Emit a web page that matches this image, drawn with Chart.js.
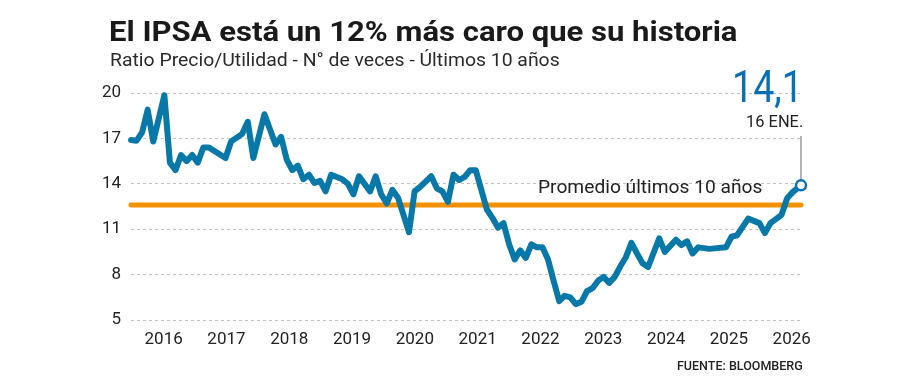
<!DOCTYPE html>
<html><head><meta charset="utf-8">
<script src="https://cdn.jsdelivr.net/npm/chart.js@4.4.1/dist/chart.umd.min.js"></script>
<style>
html,body{margin:0;padding:0;background:#fff;}
#wrap{position:relative;width:900px;height:378px;overflow:hidden;font-family:Roboto,"Noto Sans",sans-serif;color:#222;}
#c{position:absolute;left:0;top:0;}
.t{position:absolute;white-space:nowrap;line-height:1;}
</style></head><body>
<div id="wrap">
<canvas id="c" width="900" height="378"></canvas>
<div class="t" id="title" data-w="629" data-o="left" style="left:109px;top:19px;font-size:27px;font-weight:700;color:#1a1a1a;">El IPSA está un 12% más caro que su historia</div>
<div class="t" id="sub" data-w="450" data-o="left" style="left:110px;top:50px;font-size:19px;color:#2a2a2a;">Ratio Precio/Utilidad - N° de veces - Últimos 10 años</div>
<div class="t" id="big" data-w="71" data-o="right" style="right:97px;top:65px;font-size:44px;color:#0b6fb6;">14,1</div>
<div class="t" id="date" data-w="57" data-o="right" style="right:97px;top:113px;font-size:17px;color:#222;">16 ENE.</div>
<div class="t" id="avg" data-w="225" data-o="left" style="left:538px;top:178px;font-size:18px;color:#222;">Promedio últimos 10 años</div>
<div class="t" id="src" data-w="126" data-o="right" style="right:97px;top:359px;font-size:13px;font-weight:500;color:#222;">FUENTE: BLOOMBERG</div>
</div>
<script>
// ---- data ----
const dates = ['2016-01','2016-02','2016-03','2016-04','2016-05','2016-07','2016-08','2016-09','2016-10','2016-11','2016-12',
'2017-01','2017-02','2017-03','2017-06','2017-07','2017-09','2017-10','2017-11',
'2018-01','2018-03','2018-04','2018-05','2018-06','2018-07','2018-08','2018-09','2018-10','2018-11','2018-12',
'2019-01','2019-03','2019-04','2019-05','2019-06','2019-08','2019-09','2019-10','2019-11','2019-12',
'2020-01','2020-03','2020-04','2020-05','2020-07','2020-08','2020-09','2020-10','2020-11','2020-12',
'2021-01','2021-02','2021-03','2021-05','2021-06','2021-07','2021-08','2021-09','2021-10','2021-11','2021-12',
'2022-01','2022-02','2022-03','2022-04','2022-05','2022-06','2022-07','2022-08','2022-09','2022-10','2022-11','2022-12',
'2023-01','2023-02','2023-03','2023-04','2023-05','2023-06','2023-07','2023-08','2023-09','2023-10','2023-12',
'2024-01','2024-03','2024-04','2024-05','2024-06','2024-07','2024-09','2024-12',
'2025-01','2025-02','2025-04','2025-06','2025-07','2025-08','2025-10','2025-11','2025-12','2026-01-16'];
const peRatio = [16.9,16.85,17.4,18.9,16.8,19.85,15.4,14.9,15.9,15.5,15.9,
15.4,16.4,16.4,15.7,16.8,17.3,18.1,15.7,
18.6,16.6,17.1,15.6,14.9,15.2,14.3,14.6,14.05,14.2,13.5,
14.6,14.3,14.0,13.3,14.5,13.5,14.5,13.3,12.7,13.6,
13.1,10.8,13.5,13.8,14.5,13.7,13.5,12.8,14.6,14.25,
14.45,14.9,14.9,12.3,11.75,11.1,11.4,10.0,9.0,9.6,9.1,
10.0,9.8,9.8,9.0,7.6,6.25,6.6,6.5,6.05,6.2,6.9,7.1,
7.6,7.85,7.45,7.85,8.55,9.15,10.1,9.4,8.75,8.5,10.4,
9.5,10.3,9.95,10.2,9.4,9.8,9.7,9.8,
10.5,10.6,11.7,11.4,10.75,11.4,11.95,13.05,13.45,13.9];
const averagePE = 12.6;
const yTicks = [5, 8, 11, 14, 17, 20];
const yearLabels = [2016,2017,2018,2019,2020,2021,2022,2023,2024,2025,2026];

function toYear(s){const p=s.split('-').map(Number);return p[0]+(p[1]-1)/12+((p[2]||1)-1)/365;}
const pts = dates.map((d,i)=>({x:toYear(d),y:peRatio[i]}));
const firstX = pts[0].x, lastX = pts[pts.length-1].x;

const BLUE = '#0878a9';
Chart.defaults.font.family = 'Roboto, "Noto Sans", sans-serif';
Chart.defaults.color = '#222';

const leader = {
  id:'leader',
  beforeDatasetsDraw(chart){
    const meta = chart.getDatasetMeta(0);
    const p = meta.data[meta.data.length-1];
    const el = document.getElementById('date');
    const top = el.offsetTop + el.offsetHeight + 6;
    const c = chart.ctx;
    c.save();
    c.strokeStyle = '#9a9a9a'; c.lineWidth = 1.5;
    c.beginPath(); c.moveTo(p.x, top); c.lineTo(p.x, p.y); c.stroke();
    c.restore();
  }
};

new Chart(document.getElementById('c'), {
  type:'line',
  data:{datasets:[
    {data:pts, borderColor:BLUE, borderWidth:6, tension:0, order:0, clip:false,
     borderJoinStyle:'round', borderCapStyle:'round',
     pointRadius:ctx=>ctx.dataIndex===pts.length-1?5:0,
     pointBackgroundColor:'#fff', pointBorderColor:'#0b6fb6', pointBorderWidth:2.5},
    {data:[{x:firstX,y:averagePE},{x:lastX,y:averagePE}], borderColor:'#f39200', borderWidth:5,
     borderCapStyle:'round', pointRadius:0, order:1, clip:false}
  ]},
  options:{
    responsive:false, animation:false, events:[],
    layout:{padding:{left:0,right:97,top:93,bottom:28}},
    plugins:{legend:{display:false}, tooltip:{enabled:false}},
    scales:{
      x:{type:'linear', display:false, min:firstX, max:lastX+0.03},
      x2:{type:'linear', position:'bottom', min:2015.48, max:2026.18,
          afterBuildTicks:s=>{s.ticks=yearLabels.map(v=>({value:v}));},
          afterFit:s=>{s.height=30;},
          grid:{display:false, drawTicks:false}, border:{display:false},
          ticks:{padding:10, font:{size:17}, color:'#222', callback:v=>String(v), maxRotation:0, autoSkip:false}},
      y:{min:5, max:20,
         afterBuildTicks:s=>{s.ticks=yTicks.map(v=>({value:v}));},
         afterFit:s=>{s.width=131;},
         grid:{color:'#c2c2c2', lineWidth:1, drawTicks:false},
         border:{display:false, dash:[3,3]},
         ticks:{padding:10, font:{size:17}, color:'#222', callback:v=>String(v)}}
    }
  },
  plugins:[leader]
});

function fit(){
  document.querySelectorAll('.t').forEach(el=>{
    const w = +el.dataset.w;
    const k = w/el.offsetWidth;
    el.style.transformOrigin = el.dataset.o==='right'?'right top':'left top';
    el.style.transform = 'scaleX('+k+')';
  });
}
fit();
</script>
</body></html>
